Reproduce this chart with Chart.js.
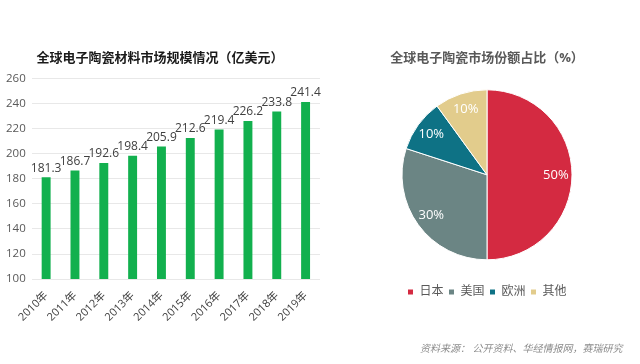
<!DOCTYPE html>
<html>
<head>
<meta charset="utf-8">
<script src="https://cdn.jsdelivr.net/npm/chart.js@4.4.1/dist/chart.umd.min.js"></script>
<style>
  html, body { margin: 0; padding: 0; background: #fff; }
  body { width: 640px; height: 364px; position: relative; overflow: hidden;
         font-family: "Open Sans", "Noto Sans CJK SC", sans-serif; }
  #barWrap { position: absolute; left: 0; top: 0; width: 330px; height: 364px; }
  #pieWrap { position: absolute; left: 334px; top: 0; width: 306px; height: 364px; }
  .source { position: absolute; left: 420px; top: 340px; font-size: 10px; color: #8c8c8c;
            font-style: italic; white-space: nowrap; }
</style>
</head>
<body>
<div id="barWrap"><canvas id="barChart"></canvas></div>
<div id="pieWrap"><canvas id="pieChart"></canvas></div>
<div class="source">资料来源： 公开资料、华经情报网，赛瑞研究</div>

<script>
// market size, 100M USD
const years = ['2010年', '2011年', '2012年', '2013年', '2014年', '2015年', '2016年', '2017年', '2018年', '2019年'];
const marketSize = [181.3, 186.7, 192.6, 198.4, 205.9, 212.6, 219.4, 226.2, 233.8, 241.4];

// market share by region
const regions = ['日本', '美国', '欧洲', '其他'];
const shares = [50, 30, 10, 10];
const shareColors = ['#D42A41', '#6B8584', '#0E7285', '#E2CC8C'];

const FONT = '"Open Sans", "Noto Sans CJK SC", sans-serif';
Chart.defaults.font.family = FONT;
Chart.defaults.animation = false;

// draws value labels above bars / inside slices
const valueLabels = {
  id: 'valueLabels',
  afterDatasetsDraw(chart) {
    const ctx = chart.ctx;
    const meta = chart.getDatasetMeta(0);
    const data = chart.data.datasets[0].data;
    ctx.save();
    ctx.textAlign = 'center';
    ctx.textBaseline = 'middle';
    meta.data.forEach((el, i) => {
      if (chart.config.type === 'bar') {
        ctx.font = '12px ' + FONT;
        ctx.fillStyle = '#404040';
        ctx.fillText(data[i].toFixed(1), el.x, el.y - 9);
      } else {
        const p = el.getProps(['x', 'y', 'startAngle', 'endAngle', 'outerRadius'], true);
        const mid = (p.startAngle + p.endAngle) / 2;
        const r = p.outerRadius * 0.81;
        ctx.font = '13px ' + FONT;
        ctx.fillStyle = '#ffffff';
        ctx.fillText(data[i] + '%', p.x + Math.cos(mid) * r, p.y + Math.sin(mid) * r);
      }
    });
    ctx.restore();
  }
};

new Chart(document.getElementById('barChart'), {
  type: 'bar',
  data: {
    labels: years,
    datasets: [{
      data: marketSize,
      backgroundColor: '#12B04E',
      borderWidth: 0,
      barPercentage: 0.31,
      categoryPercentage: 1
    }]
  },
  options: {
    responsive: true,
    maintainAspectRatio: false,
    layout: { padding: { left: 0, right: 10, top: 0, bottom: 38 } },
    plugins: {
      legend: { display: false },
      tooltip: { enabled: false },
      title: {
        display: true,
        text: '全球电子陶瓷材料市场规模情况（亿美元）',
        color: '#1a1a1a',
        font: { size: 13, weight: 'bold' },
        padding: { top: 50, bottom: 13 }
      }
    },
    scales: {
      x: {
        grid: { display: false },
        border: { display: false },
        ticks: { color: '#404040', font: { size: 11 }, minRotation: 45, maxRotation: 45, padding: 2 }
      },
      y: {
        min: 100,
        max: 260,
        grid: { color: '#e8e8e8', drawTicks: false },
        border: { display: false },
        ticks: { stepSize: 20, color: '#595959', font: { size: 11.5 }, padding: 6 }
      }
    }
  },
  plugins: [valueLabels]
});

new Chart(document.getElementById('pieChart'), {
  type: 'pie',
  data: {
    labels: regions,
    datasets: [{
      data: shares,
      backgroundColor: shareColors,
      borderColor: '#ffffff',
      borderWidth: 1
    }]
  },
  options: {
    responsive: true,
    maintainAspectRatio: false,
    radius: 85,
    layout: { padding: { left: 0, right: 0, top: 0, bottom: 56 } },
    plugins: {
      tooltip: { enabled: false },
      title: {
        display: true,
        text: '全球电子陶瓷市场份额占比（%）',
        color: '#595959',
        font: { size: 13, weight: 'bold' },
        padding: { top: 50, bottom: 3 }
      },
      legend: {
        position: 'bottom',
        labels: {
          boxWidth: 6,
          boxHeight: 6,
          padding: 5,
          color: '#595959',
          font: { size: 12 }
        }
      }
    }
  },
  plugins: [valueLabels]
});
</script>
</body>
</html>
